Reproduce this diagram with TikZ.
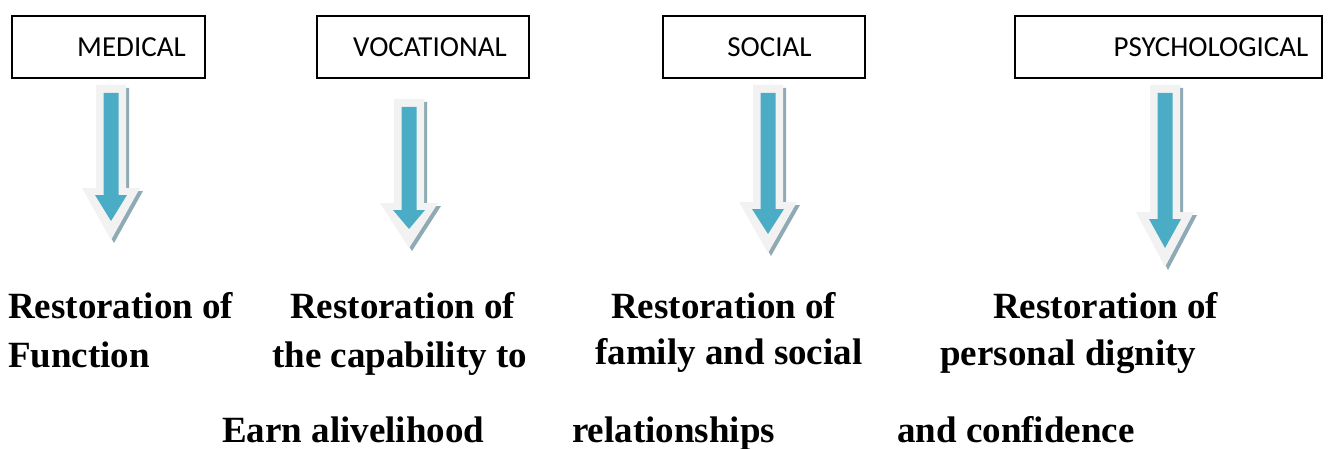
\documentclass[tikz,border=0pt]{standalone}
\usepackage{fontspec}
\setmainfont{Liberation Serif}
\newfontfamily\boxfont{Carlito}
\usepackage{tikz}
\usetikzlibrary{positioning, calc}

\definecolor{arrowblue}{HTML}{4BACC6}
\definecolor{arrowface}{HTML}{F2F2F2}
\definecolor{arrowshade}{HTML}{8FAAB4}

% fat down arrow: #1 = x, #2 = top, #3 = start of head, #4 = tip
\newcommand{\fatarrow}[4]{%
  \fill[arrowshade, shift={(3,3)}] (#1-15,#2) -- (#1+15,#2) -- (#1+15,#3) -- (#1+29,#3)
    -- (#1,#4) -- (#1-29,#3) -- (#1-15,#3) -- cycle;
  \fill[arrowface] (#1-15,#2) -- (#1+15,#2) -- (#1+15,#3) -- (#1+29,#3)
    -- (#1,#4) -- (#1-29,#3) -- (#1-15,#3) -- cycle;
  \fill[arrowblue] (#1-7.5,#2+8) -- (#1+7.5,#2+8) -- (#1+7.5,#3+7) -- (#1+16,#3+7)
    -- (#1,#4-19) -- (#1-16,#3+7) -- (#1-7.5,#3+7) -- cycle;
}

\begin{document}
\begin{tikzpicture}[x=1pt,y=-1pt,
            catbox/.style={draw, line width=1.3pt, minimum height=62pt, inner sep=0pt,
              font=\boxfont\fontsize{29}{34}\selectfont},
            restext/.style={anchor=base west, inner sep=0pt,
              font=\bfseries\fontsize{37}{44}\selectfont}]
            \useasboundingbox (0,0) rectangle (1329,449);

            % the four headings
            \node[catbox, minimum width=193pt] (medical)    at (108.5,47)  {\hspace*{46pt}MEDICAL};
            \node[catbox, minimum width=212pt] (vocational) at (423,47)    {\hspace*{14pt}VOCATIONAL};
            \node[catbox, minimum width=202pt] (social)     at (764,47)    {\hspace*{11pt}SOCIAL};
            \node[catbox, minimum width=307pt] (psych)      at (1168.5,47) {\hspace*{85pt}PSYCHOLOGICAL};

            % arrows
            \fatarrow{111}{85}{188}{240}
            \fatarrow{409}{99}{203}{248}
            \fatarrow{768}{85}{202}{253}
            \fatarrow{1165}{85}{212}{267}

            % outcomes
            \node[restext] (medA) at (8,318)   {Restoration of};
            \node[restext] (medB) at (8,367)   {Function};
            \node[restext] (vocA) at (290,318) {Restoration of};
            \node[restext] (vocB) at (272,367) {the capability to};
            \node[restext] (vocC) at (222,442) {Earn alivelihood};
            \node[restext] (socA) at (611,318) {Restoration of};
            \node[restext] (socB) at (595,364) {family and social};
            \node[restext] (socC) at (572,442) {relationships};
            \node[restext] (psyA) at (993,318) {Restoration of};
            \node[restext] (psyB) at (940,365) {personal dignity};
            \node[restext] (psyC) at (897,442) {and confidence};
\end{tikzpicture}
\end{document}
